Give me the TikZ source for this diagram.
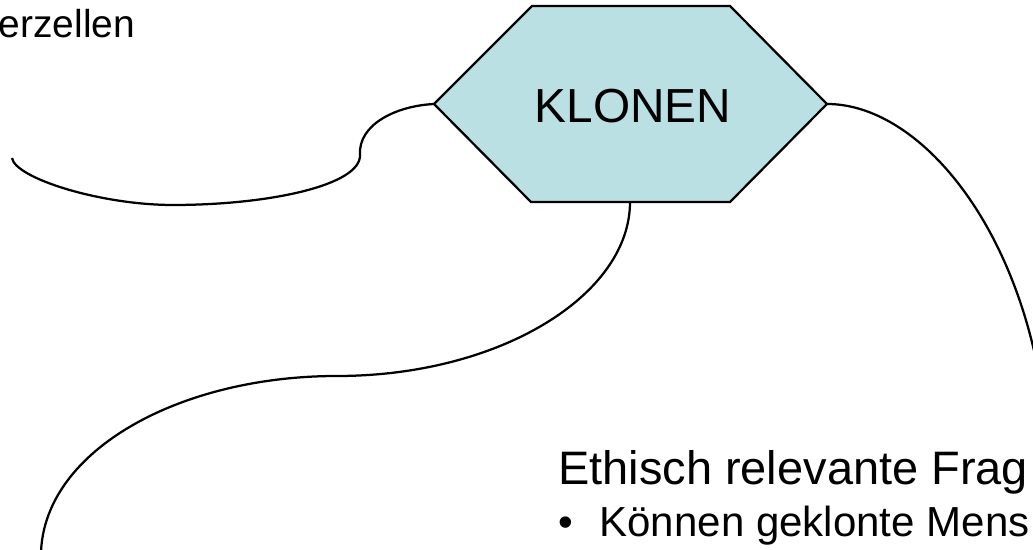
\documentclass[tikz,border=0pt]{standalone}
\usepackage{fontspec}
\setmainfont{Liberation Sans}
\usepackage{tikz}
\usepackage{xcolor}
\definecolor{hellblau}{RGB}{187,224,227}

\begin{document}
\begin{tikzpicture}[linie/.style={line width=1.6pt},
			schrift/.style={inner sep=0pt,anchor=base west}]
			\useasboundingbox (0,0) rectangle (25.825,13.75);
			\coordinate (links) at (10.85,11.15);
			\coordinate (obenlinks) at (13.3,13.6);
			\coordinate (obenrechts) at (18.25,13.6);
			\coordinate (rechts) at (20.675,11.15);
			\coordinate (untenrechts) at (18.25,8.7);
			\coordinate (untenlinks) at (13.275,8.7);
			\coordinate (unten) at (15.75,8.7);
			\coordinate (zellen) at (0.3,9.8);
			\coordinate (fragen) at (1.025,-0.05);
			\coordinate (rand) at (25.875,4.875);
			\draw [linie,fill=hellblau] (links) -- (obenlinks) -- (obenrechts) -- (rechts) -- (untenrechts) -- (untenlinks) -- cycle;
			\node [inner sep=0pt,anchor=base] (klonen) at (15.825,10.675) {\fontsize{34}{40}\selectfont KLONEN};
			\node [schrift] (erzellen) at (-0.04,12.8) {\fontsize{27.7}{33}\selectfont erzellen};
			\node [schrift] (ethik) at (13.95,1.625) {\fontsize{33.4}{40}\selectfont Ethisch relevante Frag};
			\node [schrift] (punkt) at (13.95,0.325) {\fontsize{29.9}{36}\selectfont •\hspace{0.665cm}Können geklonte Mens};
			\draw [linie] (links) .. controls (9.875,11.1) and (8.95,10.625) .. (9,9.875)
				.. controls (9.025,9.125) and (6.75,8.625) .. (4.325,8.625)
				.. controls (2.5,8.625) and (0.375,9.3) .. (zellen);
			\draw [linie] (unten) .. controls (15.75,6.375) and (12.5,4.35) .. (8.425,4.35)
				.. controls (4.5,4.35) and (1.125,2.5) .. (fragen);
			\draw [linie] (rechts) .. controls (22.75,11.15) and (25.025,8.675) .. (rand);
		\end{tikzpicture}
\end{document}
